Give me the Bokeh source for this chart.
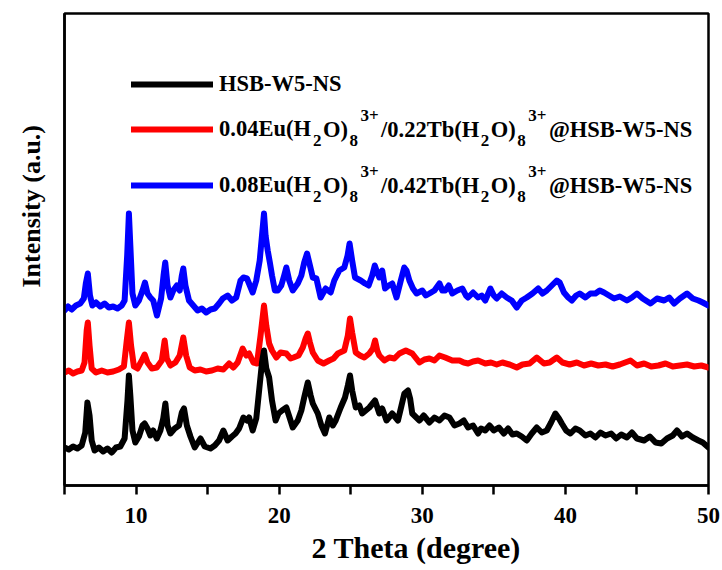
import math
from bokeh.plotting import figure
from bokeh.models import Range1d, FixedTicker, Legend, LegendItem, Label, Title
from bokeh.embed import file_html
from bokeh.resources import INLINE

# ---------------- data (2 Theta in degree, intensity in a.u. with vertical offsets) -------------
two_theta_hsb = [5.0, 5.3, 5.6, 5.9, 6.2, 6.45, 6.6, 6.75, 6.9, 7.1,
                 7.4, 7.7, 8.0, 8.3, 8.6, 8.9, 9.2, 9.4, 9.5, 9.6,
                 9.75, 9.95, 10.2, 10.45, 10.6, 10.8, 11.0, 11.2, 11.45, 11.7,
                 11.9, 12.05, 12.2, 12.4, 12.7, 13.0, 13.2, 13.35, 13.55, 13.8,
                 14.1, 14.5, 14.8, 15.2, 15.5, 15.8, 16.1, 16.4, 16.7, 16.95,
                 17.2, 17.5, 17.75, 17.9, 18.15, 18.4, 18.65, 18.8, 18.94, 19.1,
                 19.3, 19.5, 19.75, 19.95, 20.2, 20.5, 20.75, 20.95, 21.3, 21.55,
                 21.75, 22.0, 22.2, 22.35, 22.7, 22.95, 23.2, 23.5, 23.75, 23.95,
                 24.3, 24.6, 24.8, 24.95, 25.1, 25.35, 25.6, 25.8, 26.05, 26.3,
                 26.7, 27.0, 27.2, 27.5, 27.9, 28.3, 28.55, 28.75, 29.0, 29.15,
                 29.3, 29.8, 30.1, 30.5, 30.85, 31.2, 31.55, 31.9, 32.25, 32.6,
                 32.9, 33.2, 33.55, 33.9, 34.1, 34.4, 34.7, 35.0, 35.35, 35.7,
                 36.0, 36.3, 36.6, 36.95, 37.3, 37.65, 38.0, 38.35, 38.7, 39.0,
                 39.3, 39.55, 39.75, 40.05, 40.35, 40.7, 41.0, 41.4, 41.75, 42.1,
                 42.45, 42.8, 43.2, 43.55, 43.9, 44.3, 44.65, 45.0, 45.5, 45.9,
                 46.3, 46.7, 47.1, 47.5, 47.8, 48.15, 48.5, 48.9, 49.3, 49.6, 50.0]
intensity_hsb = [38, 36, 39, 37, 40, 53, 83, 70, 45, 35,
                 38, 34, 37, 33, 38, 39, 47, 85, 110, 90,
                 55, 43, 49, 60, 62, 57, 50, 55, 47, 55,
                 67, 82, 60, 52, 57, 60, 73, 77, 60, 49,
                 38, 47, 39, 37, 40, 45, 55, 45, 49, 52,
                 57, 68, 65, 68, 55, 67, 102, 123, 135, 117,
                 108, 85, 65, 72, 75, 78, 67, 58, 65, 75,
                 88, 103, 90, 82, 72, 60, 52, 68, 60, 65,
                 78, 88, 100, 110, 95, 78, 80, 72, 75, 78,
                 85, 72, 77, 65, 72, 65, 80, 92, 95, 87,
                 72, 65, 70, 63, 68, 65, 70, 68, 60, 62,
                 65, 58, 60, 52, 57, 55, 60, 55, 58, 52,
                 57, 51, 52, 49, 45, 52, 58, 53, 55, 63,
                 72, 67, 62, 55, 52, 57, 55, 50, 52, 48,
                 53, 50, 52, 47, 51, 48, 53, 47, 45, 49,
                 43, 42, 47, 50, 55, 49, 52, 48, 45, 43, 38]

two_theta_004 = [5.0, 5.3, 5.6, 5.9, 6.2, 6.4, 6.55, 6.63, 6.75, 6.9,
                 7.2, 7.6, 8.0, 8.4, 8.8, 9.15, 9.35, 9.5, 9.65, 9.85,
                 10.1, 10.4, 10.6, 10.8, 11.1, 11.45, 11.8, 12.0, 12.15, 12.4,
                 12.75, 13.05, 13.3, 13.5, 13.75, 14.1, 14.5, 14.9, 15.3, 15.7,
                 16.1, 16.5, 16.8, 17.1, 17.45, 17.7, 17.9, 18.2, 18.45, 18.7,
                 18.94, 19.1, 19.3, 19.5, 19.8, 20.1, 20.5, 20.8, 21.0, 21.35,
                 21.65, 21.85, 22.0, 22.15, 22.35, 22.7, 23.1, 23.5, 23.8, 24.1,
                 24.55, 24.8, 24.95, 25.1, 25.35, 25.65, 25.95, 26.3, 26.55, 26.7,
                 26.85, 27.0, 27.35, 27.7, 28.05, 28.4, 28.85, 29.3, 29.8, 30.15,
                 30.5, 30.85, 31.2, 31.6, 32.1, 32.6, 32.9, 33.2, 33.55, 33.9,
                 34.4, 34.8, 35.2, 35.6, 36.1, 36.6, 37.0, 37.5, 38.0, 38.5,
                 38.9, 39.4, 39.8, 40.3, 40.8, 41.3, 41.8, 42.3, 42.8, 43.3,
                 43.8, 44.55, 45.0, 45.5, 46.0, 46.5, 47.0, 47.5, 48.0, 48.5,
                 49.0, 49.5, 50.0]
intensity_004 = [113, 115, 112, 114, 115, 123, 155, 163, 140, 117,
                 113, 115, 113, 114, 116, 119, 145, 163, 140, 119,
                 117, 125, 131, 123, 117, 118, 125, 145, 127, 120,
                 123, 130, 148, 130, 118, 115, 116, 114, 115, 117,
                 116, 122, 118, 123, 137, 130, 132, 123, 122, 150,
                 180, 160, 142, 135, 128, 133, 132, 127, 128, 130,
                 138, 147, 152, 143, 133, 125, 122, 125, 127, 132,
                 135, 150, 167, 153, 133, 130, 128, 132, 137, 145,
                 135, 130, 125, 128, 127, 132, 135, 132, 123, 126,
                 127, 125, 130, 128, 125, 125, 123, 122, 124, 125,
                 122, 123, 121, 123, 121, 118, 121, 122, 128, 122,
                 123, 128, 123, 121, 123, 120, 122, 120, 121, 119,
                 121, 125, 120, 122, 119, 120, 122, 119, 120, 121,
                 119, 120, 118]

two_theta_008 = [5.0, 5.25, 5.5, 5.8, 6.1, 6.35, 6.5, 6.63, 6.78, 6.95,
                 7.2, 7.5, 7.8, 8.1, 8.4, 8.7, 9.0, 9.2, 9.38, 9.5,
                 9.6, 9.75, 9.95, 10.2, 10.45, 10.62, 10.8, 11.0, 11.2, 11.46,
                 11.75, 11.92, 12.04, 12.2, 12.4, 12.6, 12.85, 13.05, 13.2, 13.3,
                 13.45, 13.7, 14.0, 14.3, 14.6, 14.9, 15.2, 15.5, 15.8, 16.06,
                 16.4, 16.7, 17.0, 17.3, 17.5, 17.75, 17.95, 18.15, 18.4, 18.64,
                 18.8, 18.94, 19.05, 19.2, 19.35, 19.5, 19.7, 19.9, 20.15, 20.35,
                 20.5, 20.7, 20.95, 21.3, 21.55, 21.75, 21.95, 22.15, 22.35, 22.6,
                 22.9, 23.25, 23.6, 23.85, 24.2, 24.55, 24.78, 24.92, 25.1, 25.3,
                 25.7, 26.0, 26.25, 26.5, 26.68, 26.85, 27.0, 27.2, 27.4, 27.65,
                 27.9, 28.2, 28.5, 28.74, 28.9, 29.1, 29.35, 29.6, 30.0, 30.25,
                 30.5, 30.85, 31.2, 31.4, 31.6, 31.85, 32.1, 32.45, 32.8, 33.05,
                 33.2, 33.55, 33.9, 34.15, 34.4, 34.76, 35.0, 35.2, 35.55, 35.9,
                 36.25, 36.6, 36.95, 37.3, 37.7, 38.1, 38.4, 38.7, 39.05, 39.4,
                 39.6, 39.9, 40.2, 40.45, 40.75, 41.0, 41.4, 41.75, 42.1, 42.4,
                 42.7, 43.05, 43.4, 43.8, 44.3, 44.65, 45.0, 45.4, 45.95, 46.4,
                 46.9, 47.25, 47.6, 48.0, 48.5, 48.9, 49.3, 49.6, 50.0]
intensity_008 = [175, 179, 176, 180, 182, 187, 203, 212, 190, 180,
                 183, 179, 182, 178, 179, 177, 180, 185, 230, 272,
                 240, 192, 180, 185, 195, 203, 192, 188, 185, 170,
                 187, 210, 223, 200, 188, 195, 200, 195, 210, 217,
                 200, 185, 180, 175, 177, 173, 176, 177, 182, 187,
                 190, 185, 188, 205, 208, 207, 200, 193, 205, 225,
                 250, 272, 250, 235, 223, 210, 195, 195, 200, 210,
                 218, 205, 195, 202, 210, 223, 232, 220, 208, 207,
                 188, 197, 193, 205, 215, 218, 230, 242, 225, 208,
                 205, 202, 200, 210, 220, 213, 208, 215, 197, 200,
                 202, 188, 205, 218, 215, 205, 197, 192, 195, 190,
                 192, 195, 202, 195, 195, 200, 192, 195, 197, 190,
                 188, 193, 188, 190, 185, 197, 190, 187, 192, 188,
                 185, 178, 185, 188, 192, 197, 192, 195, 200, 205,
                 203, 193, 188, 185, 190, 192, 188, 192, 192, 195,
                 193, 190, 187, 189, 185, 188, 192, 187, 182, 187,
                 185, 188, 182, 187, 192, 187, 185, 183, 180]

series_colors = ["#000000", "#ff0000", "#0000ff"]
# legend texts, split into (text, kind) runs: main / sub(script) / sup(erscript)
legend_runs = [
    [("HSB-W5-NS", "main")],
    [("0.04Eu(H", "main"), ("2", "sub"), ("O)", "main"), ("8", "sub"), ("3+", "sup"),
     ("/0.22Tb(H", "main"), ("2", "sub"), ("O)", "main"), ("8", "sub"), ("3+", "sup"),
     ("@HSB-W5-NS", "main")],
    [("0.08Eu(H", "main"), ("2", "sub"), ("O)", "main"), ("8", "sub"), ("3+", "sup"),
     ("/0.42Tb(H", "main"), ("2", "sub"), ("O)", "main"), ("8", "sub"), ("3+", "sup"),
     ("@HSB-W5-NS", "main")],
]
x_ticks = [10, 20, 30, 40, 50]
x_minor_ticks = [5, 15, 25, 35, 45]

FONT = "Liberation Serif"
MAIN_PX, SMALL_PX = 22.5, 17
# gap before a run, by (previous kind, kind)
GAPS = {("main", "sub"): 1.5, ("sub", "main"): 1.5, ("sub", "sup"): 2.5, ("sup", "main"): 2.5}
DY = {"main": 0.0, "sub": 10.5, "sup": -14.0}
# Times-Bold advance widths (per 1000 em) for layout of the legend runs
ADV = {'0': 500, '1': 500, '2': 500, '3': 500, '4': 500, '5': 500, '8': 500, '.': 250,
       'E': 667, 'u': 556, '(': 333, ')': 333, 'H': 778, 'O': 778, '/': 278, 'T': 667,
       'b': 556, '@': 930, 'S': 556, 'B': 667, 'W': 1000, '-': 333, 'N': 722, '+': 570}

def run_width(txt, px):
    return sum(ADV.get(c, 500) for c in txt) * px / 1000.0

# frame geometry (px on the page)
FL, FR, FT, FB = 64, 708, 13, 485
XMIN, XMAX = 5, 50

def sx_to_data(px):
    return XMIN + (px - FL) * (XMAX - XMIN) / (FR - FL)

def sy_to_data(py):
    return FB - py

p = figure(width=722, height=570, output_backend="svg", toolbar_location=None,
           x_range=Range1d(XMIN, XMAX), y_range=Range1d(0, FB - FT))
p.min_border_left = FL
p.min_border_right = 722 - FR
p.min_border_top = FT
p.min_border_bottom = 570 - FB
p.xgrid.visible = False
p.ygrid.visible = False
p.outline_line_color = "black"
p.outline_line_width = 2.5
p.outline_line_alpha = 1.0
p.background_fill_color = "white"
p.border_fill_color = "white"

xa = p.xaxis[0]
xa.ticker = FixedTicker(ticks=x_ticks, minor_ticks=x_minor_ticks)
xa.major_tick_in = 0
xa.major_tick_out = 9
xa.minor_tick_in = 0
xa.minor_tick_out = 9
xa.axis_line_width = 2.5
xa.major_tick_line_width = 2.5
xa.minor_tick_line_width = 2.5
xa.major_label_text_font = FONT
xa.major_label_text_font_style = "bold"
xa.major_label_text_font_size = "23px"
xa.major_label_text_color = "black"
xa.major_label_standoff = 13

ya = p.yaxis[0]
ya.ticker = FixedTicker(ticks=[])
ya.axis_line_width = 2.5
ya.major_tick_line_color = None
ya.minor_tick_line_color = None

xs_all = [two_theta_hsb, two_theta_004, two_theta_008]
ys_all = [intensity_hsb, intensity_004, intensity_008]
renderers = [None, None, None]
for i in [2, 1, 0]:
    renderers[i] = p.line(xs_all[i], ys_all[i], line_color=series_colors[i], line_width=6,
                          line_join="round", line_cap="round")

legend_cy = [84, 129, 185]      # page y of each legend row
LINE_X0, LINE_LEN, STANDOFF = 131, 82, 6
ITEM_H = 26
for i in range(3):
    runs = legend_runs[i]
    cy = legend_cy[i]
    leg = Legend(items=[LegendItem(label=runs[0][0], renderers=[renderers[i]])],
                 location=(LINE_X0 - FL, FB - cy - ITEM_H / 2),
                 glyph_width=LINE_LEN, glyph_height=ITEM_H, label_height=ITEM_H,
                 label_standoff=STANDOFF, padding=0, margin=0, spacing=0,
                 border_line_color=None, background_fill_alpha=0,
                 label_text_font=FONT, label_text_font_style="bold",
                 label_text_font_size=f"{MAIN_PX}px", label_text_color="black")
    p.add_layout(leg)
    xpos = LINE_X0 + LINE_LEN + STANDOFF + run_width(runs[0][0], MAIN_PX)
    prev = "main"
    for txt, kind in runs[1:]:
        xpos += GAPS.get((prev, kind), 1.5)
        size = MAIN_PX if kind == "main" else SMALL_PX
        p.add_layout(Label(x=sx_to_data(xpos), y=sy_to_data(cy + DY[kind]), text=txt,
                           text_align="left", text_baseline="middle",
                           text_font=FONT, text_font_style="bold",
                           text_font_size=f"{size}px", text_color="black"))
        xpos += run_width(txt, size)
        prev = kind

p.add_layout(Title(text="2 Theta (degree)", align="left", offset=247, standoff=6,
                   text_line_height=1.1,
                   text_font=FONT, text_font_style="bold", text_font_size="30px",
                   text_color="black"), "below")
p.add_layout(Title(text="Intensity (a.u.)", align="left", offset=198, standoff=33,
                   vertical_align="top",
                   text_font=FONT, text_font_style="bold", text_font_size="26px",
                   text_color="black"), "left")

open("out.html", "w").write(file_html(p, INLINE))
